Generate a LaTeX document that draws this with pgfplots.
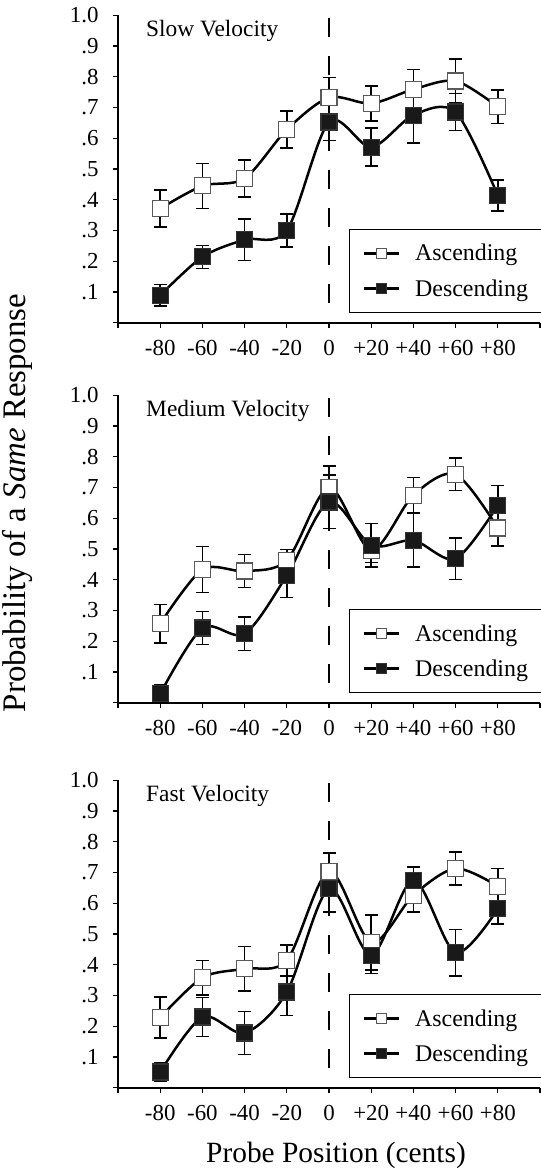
\documentclass[border=0pt]{standalone}
\usepackage{pgfplots}
\pgfplotsset{compat=1.18}
\usepackage{pgfplotstable}
\usepackage{fontspec}
\setmainfont{Liberation Serif}

% x index: 0=-80 ... 4=0 ... 8=+80 ; y, error
\pgfplotstableread{
x y e
0 0.371 0.060
1 0.445 0.073
2 0.469 0.060
3 0.628 0.060
4 0.732 0.065
5 0.713 0.057
6 0.759 0.065
7 0.786 0.072
8 0.702 0.054
}\slowA
\pgfplotstableread{
x y e
0 0.089 0.035
1 0.214 0.037
2 0.270 0.068
3 0.300 0.053
4 0.653 0.060
5 0.571 0.062
6 0.675 0.090
7 0.685 0.060
8 0.414 0.050
}\slowD
\pgfplotstableread{
x y e
0 0.257 0.063
1 0.433 0.075
2 0.428 0.054
3 0.463 0.035
4 0.700 0.070
5 0.496 0.040
6 0.675 0.057
7 0.743 0.053
8 0.568 0.058
}\medA
\pgfplotstableread{
x y e
0 0.029 0.030
1 0.243 0.053
2 0.224 0.055
3 0.414 0.072
4 0.653 0.087
5 0.512 0.070
6 0.528 0.087
7 0.468 0.068
8 0.642 0.065
}\medD
\pgfplotstableread{
x y e
0 0.228 0.067
1 0.358 0.056
2 0.387 0.073
3 0.414 0.050
4 0.704 0.060
5 0.472 0.089
6 0.626 0.054
7 0.713 0.054
8 0.655 0.058
}\fastA
\pgfplotstableread{
x y e
0 0.051 0.030
1 0.230 0.064
2 0.178 0.070
3 0.311 0.076
4 0.647 0.075
5 0.431 0.060
6 0.675 0.043
7 0.439 0.075
8 0.582 0.050
}\fastD

\pgfplotsset{
  panel/.style={
    scale only axis,
    width=422bp, height=307.5bp,
    xmin=-1, xmax=9, ymin=0, ymax=1,
    axis x line*=bottom, axis y line*=left,
    axis line style={line width=1.8bp, black},
    tick align=outside,
    major tick length=5bp,
    tick style={line width=1.3bp, black},
    xtick={-1,0,1,2,3,4,5,6,7,8,9},
    xticklabels={,-80,-60,-40,-20,0,+20,+40,+60,+80,},
    ytick={0,0.1,0.2,0.3,0.4,0.5,0.6,0.7,0.8,0.9,1.0},
    yticklabels={,.1,.2,.3,.4,.5,.6,.7,.8,.9,1.0},
    tick label style={font=\fontsize{23}{26}\selectfont},
    xticklabel style={yshift=-9bp},
    yticklabel style={xshift=-11bp},
    clip=false,
    legend cell align=left,
    legend style={at={(rel axis cs:1,0.033)}, anchor=south east, xshift=3bp,
      draw=black, line width=1.2bp, fill=white, outer sep=0pt,
      font=\fontsize{24}{26}\selectfont,
      inner xsep=13bp, inner ysep=13bp,
      row sep=13bp, column sep=13bp},
    legend image code/.code={
      \draw[#1, mark size=5bp, mark repeat=2, mark phase=2]
        plot coordinates {(0bp,0bp) (17.5bp,0bp) (35bp,0bp)};},
  },
  asc/.style={black, line width=2.5bp, smooth, tension=0.5,
    mark=square*, mark size=8bp,
    mark options={fill=white, draw=black!65, line width=1.2bp, solid},
    error bars/.cd, y dir=both, y explicit,
    error bar style={line width=1.5bp, black, solid},
    error mark options={rotate=90, mark size=6.5bp, line width=1.5bp, black}},
  desc/.style={black, line width=2.5bp, smooth, tension=0.5,
    mark=square*, mark size=8bp,
    mark options={fill=black!90, draw=black!80, line width=1.2bp, solid},
    error bars/.cd, y dir=both, y explicit,
    error bar style={line width=1.5bp, black, solid},
    error mark options={rotate=90, mark size=6.5bp, line width=1.5bp, black}},
}

\begin{document}
\begin{tikzpicture}
\path[use as bounding box] (0,0) rectangle (541bp,-1171bp);

% ---------- Slow ----------
\begin{axis}[panel, at={(118bp,-322.7bp)}, anchor=south west]
\draw[black, line width=1.6bp, dash pattern=on 19bp off 19bp] (axis cs:4,0.99) -- (axis cs:4,0);
\addplot[asc] table[x=x, y=y, y error=e] {\slowA};
\addlegendentry{Ascending}
\addplot[desc] table[x=x, y=y, y error=e] {\slowD};
\addlegendentry{Descending}
\node[anchor=west, font=\fontsize{23.5}{26}\selectfont] at (rel axis cs:0.0585,0.95) {Slow Velocity};
\end{axis}

% ---------- Medium ----------
\begin{axis}[panel, at={(118bp,-702.7bp)}, anchor=south west]
\draw[black, line width=1.6bp, dash pattern=on 19bp off 19bp] (axis cs:4,0.99) -- (axis cs:4,0);
\addplot[asc] table[x=x, y=y, y error=e] {\medA};
\addlegendentry{Ascending}
\addplot[desc] table[x=x, y=y, y error=e] {\medD};
\addlegendentry{Descending}
\node[anchor=west, font=\fontsize{23.5}{26}\selectfont] at (rel axis cs:0.0585,0.95) {Medium Velocity};
\end{axis}

% ---------- Fast ----------
\begin{axis}[panel, at={(118bp,-1087.7bp)}, anchor=south west]
\draw[black, line width=1.6bp, dash pattern=on 19bp off 19bp] (axis cs:4,0.99) -- (axis cs:4,0);
\addplot[asc] table[x=x, y=y, y error=e] {\fastA};
\addlegendentry{Ascending}
\addplot[desc] table[x=x, y=y, y error=e] {\fastD};
\addlegendentry{Descending}
\node[anchor=west, font=\fontsize{23.5}{26}\selectfont] at (rel axis cs:0.0585,0.95) {Fast Velocity};
\end{axis}

\node[font=\fontsize{29.5}{32}\selectfont] at (336bp,-1155bp) {Probe Position (cents)};
\node[rotate=90, font=\fontsize{33}{36}\selectfont] at (17bp,-503bp) {Probability of a \textit{Same} Response};
\end{tikzpicture}
\end{document}
